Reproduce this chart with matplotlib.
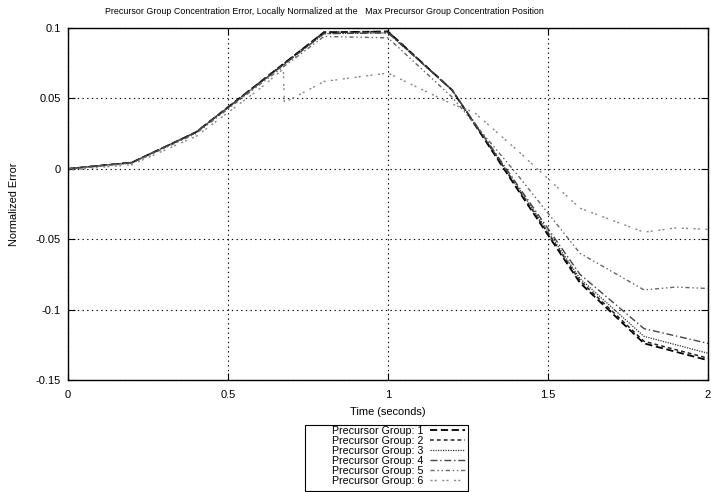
import matplotlib
matplotlib.use("Agg")
import matplotlib.pyplot as plt
from matplotlib.patches import Rectangle

plt.rcParams['font.family'] = ['Liberation Sans', 'DejaVu Sans']

# ---- data ----
t = [0, 0.2, 0.4, 0.6, 0.8, 1.0, 1.2, 1.4, 1.6, 1.8, 2.0]
g1 = [0, 0.0045, 0.026, 0.0615, 0.097, 0.0975, 0.056, -0.013, -0.081, -0.124, -0.136]
g2 = [0, 0.0045, 0.026, 0.0615, 0.097, 0.0975, 0.056, -0.012, -0.0795, -0.1225, -0.1345]
g3 = [0, 0.0045, 0.026, 0.061, 0.096, 0.0965, 0.056, -0.011, -0.078, -0.119, -0.131]
g4 = [0, 0.0045, 0.026, 0.061, 0.096, 0.0965, 0.056, -0.010, -0.075, -0.1135, -0.124]
t5 = [0, 0.2, 0.4, 0.6, 0.8, 1.0, 1.2, 1.4, 1.6, 1.8, 1.9, 2.0]
g5 = [0, 0.004, 0.025, 0.060, 0.094, 0.093, 0.051, -0.003, -0.060, -0.086, -0.084, -0.085]
t6 = [0, 0.2, 0.4, 0.6, 0.673, 0.676, 0.8, 1.0, 1.2, 1.27, 1.4, 1.6, 1.8, 1.9, 2.0]
g6 = [-0.001, 0.003, 0.023, 0.057, 0.071, 0.047, 0.062, 0.068, 0.046, 0.040, 0.014, -0.028, -0.045, -0.042, -0.043]

labels = ["Precursor Group: %d" % i for i in range(1, 7)]
xticks = [0, 0.5, 1, 1.5, 2]
xticklabels = ["0", "0.5", "1", "1.5", "2"]
yticks = [0.1, 0.05, 0, -0.05, -0.1, -0.15]
yticklabels = ["0.1", "0.05", "0", "-0.05", "-0.1", "-0.15"]

W, H = 711, 492
fig = plt.figure(figsize=(W/100, H/100), dpi=100)
ax = fig.add_axes([68/W, 1-380/H, 640/W, 352/H])

styles = [
    dict(color='#000000', lw=1.3, dashes=(4, 2)),
    dict(color='#222222', lw=1.1, dashes=(2.5, 2)),
    dict(color='#333333', lw=0.9, dashes=(1, 1)),
    dict(color='#444444', lw=1.0, dashes=(5, 2, 1, 2)),
    dict(color='#666666', lw=1.0, dashes=(3, 2, 1, 2, 1, 2)),
    dict(color='#888888', lw=1.0, dashes=(1.5, 1.5, 1.5, 4)),
]
series = [(t, g1), (t, g2), (t, g3), (t, g4), (t5, g5), (t6, g6)]
for (xs, ys), st, lab in zip(series, styles, labels):
    ax.plot(xs, ys, label=lab, **st)

ax.set_xlim(0, 2)
ax.set_ylim(-0.15, 0.1)
ax.set_xticks(xticks)
ax.set_xticklabels(xticklabels)
ax.set_yticks(yticks)
ax.set_yticklabels(yticklabels)
ax.tick_params(direction='in', length=5, width=0.8, top=True, right=True,
               labelsize=8, colors='black')
ax.tick_params(axis='x', pad=7)
ax.tick_params(axis='y', pad=5)
ax.grid(True, color='black', linestyle=(0, (1.2, 3)), linewidth=0.8)
for s in ax.spines.values():
    s.set_linewidth(1.0)

fig.text(324/W, 1-12/H,
         "Precursor Group Concentration Error, Locally Normalized at the   Max Precursor Group Concentration Position",
         fontsize=6.4, ha='center', va='center')
ax.set_xlabel("Time (seconds)", fontsize=7.9, labelpad=5)
ax.set_ylabel("Normalized Error", fontsize=7.9, labelpad=12)

leg = fig.legend(loc='upper right', bbox_to_anchor=(466/W, 1-425/H), ncol=1,
                 fontsize=7.7, markerfirst=False, frameon=False,
                 handlelength=3.3, handletextpad=0.6, borderpad=0.1,
                 labelspacing=0.0, borderaxespad=0)
fig.patches.append(Rectangle((305/W, 1-491/H), 163/W, 66/H, transform=fig.transFigure,
                             fill=False, edgecolor='black', linewidth=0.8))

fig.savefig("out.png", dpi=100)
